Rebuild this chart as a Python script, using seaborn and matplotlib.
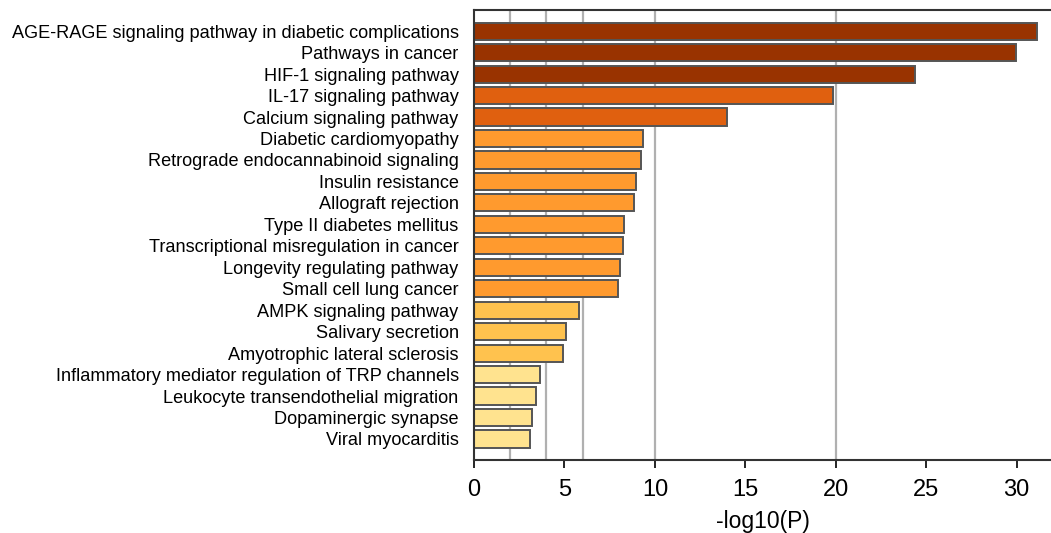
import matplotlib
matplotlib.use('Agg')
import matplotlib.pyplot as plt
import seaborn as sns
import pandas as pd

terms = [
    "AGE-RAGE signaling pathway in diabetic complications",
    "Pathways in cancer",
    "HIF-1 signaling pathway",
    "IL-17 signaling pathway",
    "Calcium signaling pathway",
    "Diabetic cardiomyopathy",
    "Retrograde endocannabinoid signaling",
    "Insulin resistance",
    "Allograft rejection",
    "Type II diabetes mellitus",
    "Transcriptional misregulation in cancer",
    "Longevity regulating pathway",
    "Small cell lung cancer",
    "AMPK signaling pathway",
    "Salivary secretion",
    "Amyotrophic lateral sclerosis",
    "Inflammatory mediator regulation of TRP channels",
    "Leukocyte transendothelial migration",
    "Dopaminergic synapse",
    "Viral myocarditis",
]
logp = [31.1, 29.95, 24.4, 19.85, 14.0, 9.32, 9.25, 8.93, 8.84, 8.31,
        8.23, 8.08, 7.97, 5.80, 5.10, 4.92, 3.66, 3.43, 3.19, 3.11]
# colour group per bar
group = [0, 0, 0, 1, 1, 2, 2, 2, 2, 2, 2, 2, 2, 3, 3, 3, 4, 4, 4, 4]
group_colors = ["#993300", "#E0600F", "#FF9A2E", "#FFC24E", "#FFE38F"]
grid_x = [2, 4, 6, 10, 20]

df = pd.DataFrame({"term": terms, "logp": logp, "group": group})

plt.rcParams['font.family'] = ['Liberation Sans', 'DejaVu Sans']
fig = plt.figure(figsize=(10.51, 5.33), dpi=100)
ax = fig.add_axes([0.451, 0.137, 0.549, 0.844])

for g in grid_x:
    ax.axvline(g, color="#b0b0b0", lw=1.6, zorder=0)

sns.barplot(data=df, x="logp", y="term", hue="term", legend=False,
            palette=[group_colors[g] for g in group], width=0.8,
            edgecolor="#555555", linewidth=1.4, saturation=1, ax=ax, zorder=2)

ax.set_xlim(0, 31.9)
ax.set_ylim(19.98, -0.98)
ax.set_xticks([0, 5, 10, 15, 20, 25, 30])
ax.set_xlabel("-log10(P)", fontsize=16.5, va='center')
ax.xaxis.set_label_coords(0.5, -0.137)
ax.set_ylabel("")
ax.tick_params(axis='x', labelsize=17, length=6, width=1.2, direction='out', pad=8)
ax.tick_params(axis='y', labelsize=13.1, length=0, pad=11)
ax.spines['right'].set_visible(False)
for s in ['left', 'top', 'bottom']:
    ax.spines[s].set_linewidth(1.5)
    ax.spines[s].set_color("#333333")

fig.savefig("out.png", dpi=100)
